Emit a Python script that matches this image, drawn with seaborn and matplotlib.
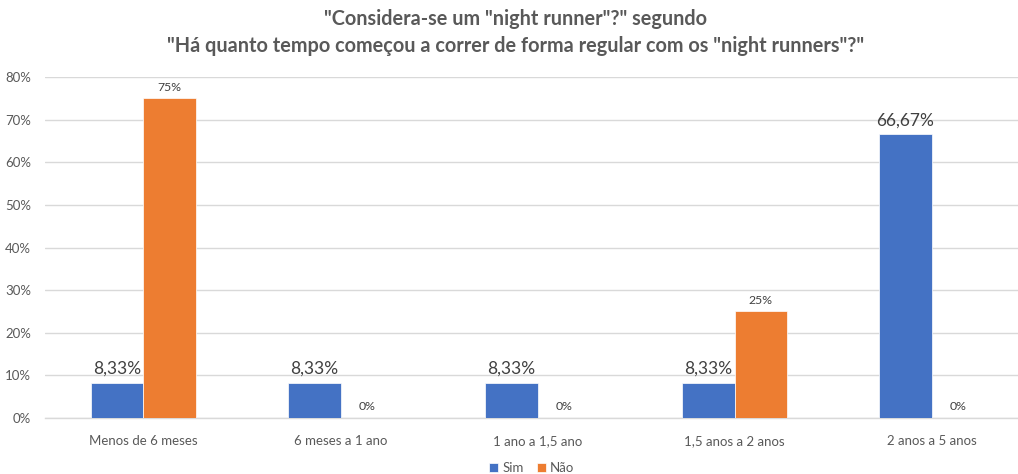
import matplotlib
matplotlib.use("Agg")
import matplotlib.pyplot as plt
import seaborn as sns
import pandas as pd

categorias = ["Menos de 6 meses", "6 meses a 1 ano", "1 ano a 1,5 ano",
              "1,5 anos a 2 anos", "2 anos a 5 anos"]
sim = [8.33, 8.33, 8.33, 8.33, 66.67]
nao = [75, 0, 0, 25, 0]
series = ["Sim", "Não"]
yticks = [0, 10, 20, 30, 40, 50, 60, 70, 80]

df = pd.DataFrame({
    "categoria": categorias * 2,
    "resposta": [series[0]] * len(categorias) + [series[1]] * len(categorias),
    "valor": [v / 100 for v in sim] + [v / 100 for v in nao],
})

sns.set_theme(style="white")
plt.rcParams["font.family"] = ["Lato", "DejaVu Sans"]

text_col = "#595959"
grid_col = "#D9D9D9"

fig = plt.figure(figsize=(10.18, 4.74), dpi=100)
ax = fig.add_axes([0.0442, 0.1181, 0.9676, 0.7194])

sns.barplot(data=df, x="categoria", y="valor", hue="resposta",
            order=categorias, hue_order=series,
            palette={"Sim": "#4472C4", "Não": "#ED7D31"},
            width=0.53, saturation=1, edgecolor="white", linewidth=0.5,
            ax=ax, legend=True, zorder=3)

ax.set_ylim(0, 0.8)
ax.set_yticks([t / 100 for t in yticks])
ax.set_yticklabels([f"{t}%" for t in yticks])
ax.yaxis.grid(True, color=grid_col, linewidth=1, zorder=0)
ax.set_axisbelow(True)
for s in ["top", "right", "left"]:
    ax.spines[s].set_visible(False)
ax.spines["bottom"].set_color(grid_col)
ax.spines["bottom"].set_linewidth(1)
ax.tick_params(axis="both", length=0, colors=text_col, labelsize=9.5)
ax.tick_params(axis="x", pad=12)
ax.tick_params(axis="y", pad=10)
ax.set_xlabel("")
ax.set_ylabel("")


def fmt(v):
    p = v * 100
    if abs(p - round(p)) < 1e-9:
        return f"{int(round(p))}%"
    return f"{p:.2f}".replace(".", ",") + "%"


sizes = [12.5, 8.8]
for cont, fs in zip(ax.containers, sizes):
    vals = [b.get_height() for b in cont]
    ax.bar_label(cont, labels=[fmt(v) for v in vals], padding=4,
                 fontsize=fs, color="#404040")

leg = ax.legend(loc="lower center", bbox_to_anchor=(0.494, -0.2),
                ncol=2, frameon=False, fontsize=9.5, handlelength=0.7,
                handleheight=0.7, handletextpad=0.3, columnspacing=1.0)
for t in leg.get_texts():
    t.set_color(text_col)

fig.suptitle('"Considera-se um "night runner"?" segundo\n'
             '"Há quanto tempo começou a correr de forma regular com os "night runners"?"',
             x=0.506, y=0.982, fontsize=14.3, fontweight="bold", color=text_col,
             linespacing=1.45)

fig.savefig("out.png", dpi=100, facecolor="white")
